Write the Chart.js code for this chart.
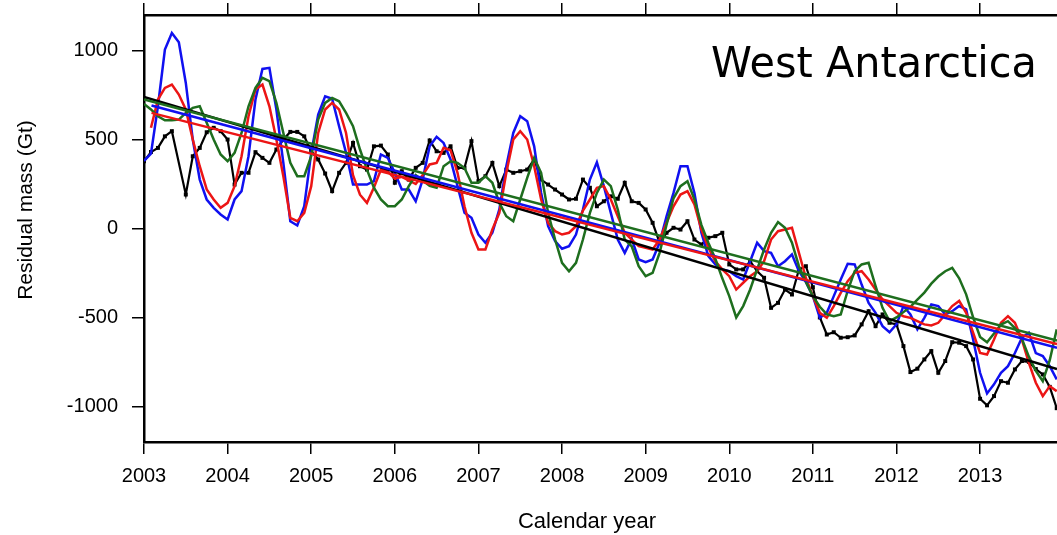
<!DOCTYPE html>
<html>
<head>
<meta charset="utf-8">
<script src="https://cdn.jsdelivr.net/npm/chart.js@4.4.1/dist/chart.umd.min.js"></script>
<style>
html,body{margin:0;padding:0;background:#fff;overflow:hidden;}
canvas{display:block;}
</style>
</head>
<body>
<canvas id="c" width="1057" height="535"></canvas>
<script>
// ---- data ----
const startYear = 2003;          // first monthly sample (Jan 2003)
const monthsPerYear = 12;
const xMin = 2003, xMax = 2013.92;
const yMin = -1200, yMax = 1200;
const xTickYears = [2003,2004,2005,2006,2007,2008,2009,2010,2011,2012,2013];
const yTickValues = [-1000,-500,0,500,1000];

const titleText = "West Antarctica";
const xTitle = "Calendar year";
const yTitle = "Residual mass (Gt)";

const blackGt = [
378,430,453,518,547,null,191,406,453,541,566,547,
500,247,313,313,429,397,369,444,500,543,543,518,
434,388,309,210,313,369,481,350,331,462,466,416,
257,322,275,341,369,495,434,425,462,341,341,491,
266,294,369,238,331,313,322,331,388,275,247,219,
191,163,167,275,229,125,153,181,167,257,153,144,
107,32,-80,-24,4,-6,41,-62,-90,-52,-43,-24,
-202,-230,-230,-184,-240,-277,-446,-418,-343,-371,-230,-212,
-330,-500,-596,-583,-614,-611,-601,-539,-465,-549,-483,-530,
-539,-661,-807,-788,-736,-689,-811,-745,-639,-642,-661,-736,
-957,-994,-942,-858,-867,-792,-745,-750,-790,-820,-890,-1010
];
const blueGt = [
380,421,687,1006,1099,1047,818,500,275,163,116,79,
51,163,210,406,725,897,903,669,369,41,17,125,
425,640,743,729,575,425,247,247,247,266,416,397,
313,219,219,153,275,462,515,481,388,238,88,60,
-34,-80,-24,107,350,537,631,603,462,200,13,-71,
-114,-99,-34,107,275,372,238,88,-62,-137,-58,-174,
-189,-174,-80,69,200,350,350,200,-24,-155,-202,-230,
-240,-268,-287,-184,-80,-127,-137,-212,-184,-146,-240,-300,
-380,-502,-474,-380,-287,-198,-202,-315,-418,-474,-549,-583,
-539,-436,-483,-567,-502,-427,-436,-483,-465,-436,-455,-624,
-811,-927,-876,-811,-774,-700,-614,-586,-700,-717,-774,-848
];
const redGt = [
null,566,725,790,809,753,669,500,350,220,163,116,
144,238,406,631,781,809,687,500,294,60,41,88,
238,537,669,706,669,537,300,190,144,230,330,320,
280,290,270,250,300,360,369,453,440,313,125,-24,
-118,-118,-6,88,313,500,547,500,350,163,32,-15,
-34,-24,13,100,163,229,238,163,69,-24,-62,-99,
-108,-118,-62,32,125,191,210,135,-6,-108,-184,-230,
-268,-343,-305,-268,-240,-184,-62,-15,-6,4,-137,-278,
-380,-474,-502,-436,-362,-296,-249,-240,-287,-343,-399,-436,
-474,-493,-502,-521,-539,-545,-530,-483,-436,-407,-474,-586,
-699,-708,-624,-530,-493,-530,-624,-755,-867,-942,-886,-914
];
const greenGt = [
700,669,631,608,608,612,650,678,687,594,500,416,
378,425,537,687,790,847,828,706,537,369,294,294,
406,612,706,734,715,650,575,444,331,229,163,125,
125,163,238,300,270,240,229,350,378,369,340,257,
257,294,257,144,69,41,163,285,397,313,88,-62,
-193,-240,-193,-62,88,200,275,238,107,-62,-100,-212,
-268,-249,-137,22,170,238,266,163,20,-80,-170,-280,
-380,-500,-436,-343,-230,-118,-24,36,4,-80,-212,-300,
-380,-440,-483,-493,-483,-350,-240,-202,-193,-324,-446,-520,
-500,-470,-440,-400,-360,-310,-270,-240,-221,-280,-370,-500,
-610,-640,-590,-540,-521,-560,-620,-720,-800,-858,-740,-567
];

// linear trend lines: [start year, end year] and [start value, end value]
const blackTrendX = [2003.0, 2013.92], blackTrendY = [740, -790];
const blueTrendX  = [2003.09, 2013.92], blueTrendY  = [691, -670];
const redTrendX   = [2003.09, 2013.92], redTrendY   = [650, -650];
const greenTrendX = [2003.0, 2013.92], greenTrendY = [725, -630];

// ---- build ----
function monthly(arr){ return arr.map((v,i)=>({x: startYear + i/monthsPerYear, y: v})); }
function pair(xs, ys){ return xs.map((x,i)=>({x:x, y:ys[i]})); }

const COL = {black:'#000000', blue:'#1010f0', red:'#ec1515', green:'#1e6e1e'};
const LW = 2.5;

function lineDs(data, color, order, extra){
  return Object.assign({
    data: data, borderColor: color, backgroundColor: color, borderWidth: LW,
    pointRadius: 0, tension: 0, spanGaps: true, fill: false, order: order
  }, extra || {});
}

const datasets = [
  lineDs(pair(greenTrendX, greenTrendY), COL.green, 0),
  lineDs(pair(redTrendX, redTrendY), COL.red, 1),
  lineDs(pair(blueTrendX, blueTrendY), COL.blue, 2),
  lineDs(pair(blackTrendX, blackTrendY), COL.black, 3),
  lineDs(monthly(greenGt), COL.green, 4),
  lineDs(monthly(redGt), COL.red, 5),
  lineDs(monthly(blueGt), COL.blue, 6),
  lineDs(monthly(blackGt), COL.black, 7, {
    borderWidth: 2.2, pointRadius: 2.8, pointStyle: 'rect',
    pointBackgroundColor: COL.black, pointBorderWidth: 0
  })
];

const tickFont = {family: '"Liberation Sans", Arial, sans-serif', size: 20};
const axisGrid = {display: true, drawOnChartArea: false, drawTicks: true, tickLength: 12, color: '#000', lineWidth: 1.5};
const axisBorder = {display: true, color: '#000', width: 2.5};

function zeroPad(s){ s.paddingTop = 0; s.paddingBottom = 0; s.paddingLeft = 0; s.paddingRight = 0; }

const textPlugin = {
  id: 'texts',
  afterDraw(chart){
    const ctx = chart.ctx, ca = chart.chartArea;
    ctx.save();
    ctx.fillStyle = '#000';
    // panel title
    ctx.font = '43px "DejaVu Sans", Verdana, sans-serif';
    ctx.textAlign = 'right';
    ctx.textBaseline = 'alphabetic';
    ctx.fillText(titleText, ca.right - 20, ca.top + 62, 326);
    // x title
    ctx.font = '22px "Liberation Sans", Arial, sans-serif';
    ctx.textAlign = 'center';
    ctx.fillText(xTitle, ca.left + 443, ca.bottom + 86);
    // y title
    ctx.translate(32, ca.top + 195);
    ctx.rotate(-Math.PI/2);
    ctx.font = '21px "Liberation Sans", Arial, sans-serif';
    ctx.fillText(yTitle, 0, 0);
    ctx.restore();
  }
};

new Chart(document.getElementById('c'), {
  type: 'line',
  data: {datasets: datasets},
  plugins: [textPlugin],
  options: {
    responsive: false,
    animation: false,
    devicePixelRatio: 1,
    events: [],
    layout: {padding: 0, autoPadding: false},
    plugins: {legend: {display: false}, tooltip: {enabled: false}, title: {display: false}},
    scales: {
      x: {
        type: 'linear', position: 'bottom', min: xMin, max: xMax,
        afterBuildTicks: s => { s.ticks = xTickYears.map(v => ({value: v})); },
        afterFit: s => { s.height = 93; zeroPad(s); },
        grid: axisGrid, border: axisBorder,
        ticks: {font: tickFont, color: '#000', padding: 10, maxRotation: 0, autoSkip: false,
                callback: v => String(v)}
      },
      xTop: {
        type: 'linear', position: 'top', min: xMin, max: xMax,
        afterBuildTicks: s => { s.ticks = xTickYears.map(v => ({value: v})); },
        afterFit: s => { s.height = 15; zeroPad(s); },
        grid: axisGrid, border: axisBorder,
        ticks: {display: false}
      },
      y: {
        type: 'linear', position: 'left', min: yMin, max: yMax,
        afterBuildTicks: s => { s.ticks = yTickValues.map(v => ({value: v})); },
        afterFit: s => { s.width = 144; zeroPad(s); },
        grid: axisGrid, border: axisBorder,
        ticks: {font: tickFont, color: '#000', padding: 14, callback: v => String(v)}
      }
    }
  }
});
</script>
</body>
</html>
